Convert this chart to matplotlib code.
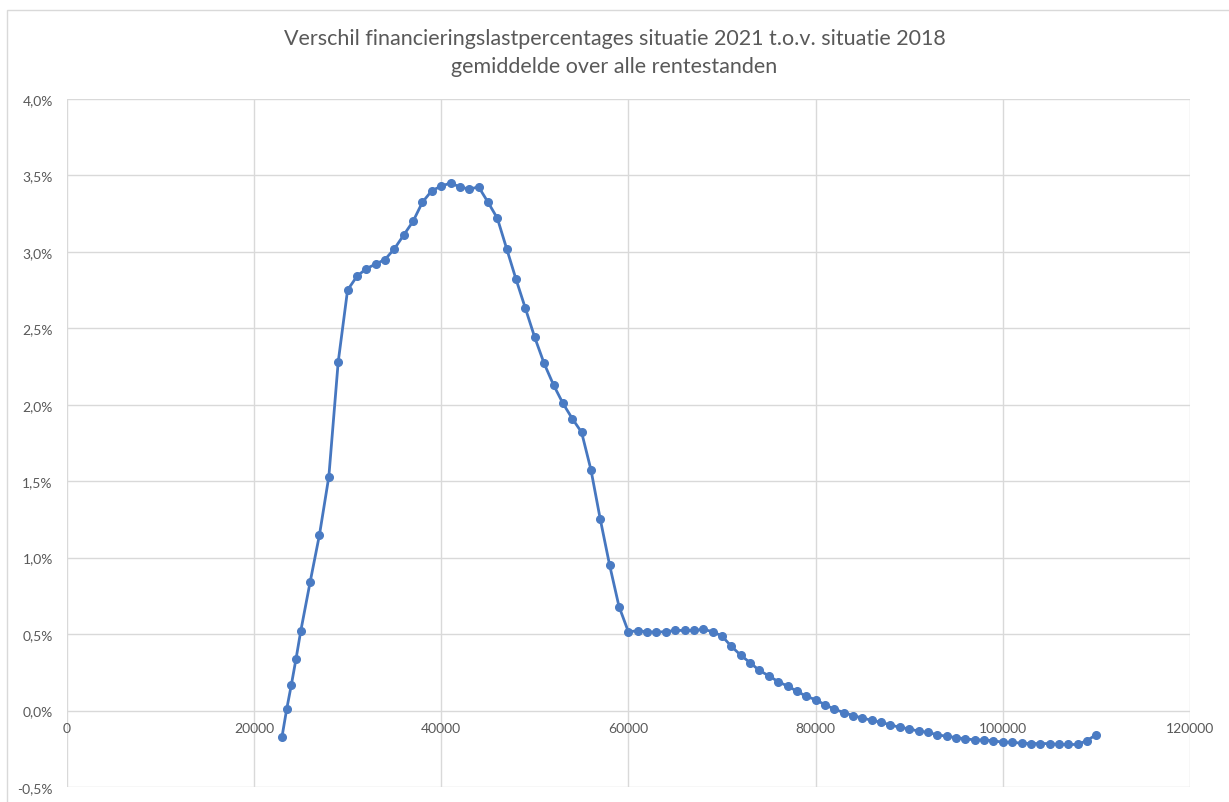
import numpy as np
import matplotlib.pyplot as plt
from matplotlib.ticker import FuncFormatter, MultipleLocator
from matplotlib.patches import Rectangle

plt.rcParams['font.family'] = ['Lato', 'DejaVu Sans']

# inkomen (x) en verschil in financieringslastpercentage (in %)
inkomen = [23000, 23500, 24000, 24500, 25000] + list(range(26000, 111000, 1000))
verschil = [
    -0.17, 0.01, 0.17, 0.34, 0.52,                          # 23000 - 25000
    0.84, 1.15, 1.53, 2.28, 2.75,                           # 26000 - 30000
    2.84, 2.89, 2.92, 2.95, 3.02, 3.11, 3.20, 3.325, 3.40, 3.43,   # 31000 - 40000
    3.45, 3.425, 3.41, 3.425, 3.325, 3.22, 3.02, 2.82, 2.63, 2.44,  # 41000 - 50000
    2.27, 2.13, 2.01, 1.91, 1.82, 1.575, 1.25, 0.95, 0.68, 0.515,   # 51000 - 60000
    0.522, 0.515, 0.513, 0.516, 0.524, 0.524, 0.524, 0.531, 0.516, 0.487,  # 61000 - 70000
    0.42, 0.362, 0.313, 0.262, 0.227, 0.189, 0.16, 0.127, 0.093, 0.071,  # 71000 - 80000
    0.038, 0.009, -0.013, -0.033, -0.049, -0.064, -0.077, -0.094, -0.11, -0.12,  # 81000 - 90000
    -0.135, -0.142, -0.159, -0.168, -0.177, -0.185, -0.192, -0.192, -0.198, -0.207,  # 91000 - 100000
    -0.207, -0.214, -0.216, -0.216, -0.216, -0.222, -0.222, -0.222, -0.196, -0.157,  # 101000 - 110000
]

titel_1 = "Verschil financieringslastpercentages situatie 2021 t.o.v. situatie 2018"
titel_2 = "gemiddelde over alle rentestanden"

fig = plt.figure(figsize=(12.29, 8.03), dpi=100)
ax = fig.add_axes([0.0543, 0.0187, 0.9140, 0.8568])

# chart border (right edge falls outside the picture)
fig.patches.append(Rectangle((7 / 1229, -0.01), 1.0, 1.01 - 10.5 / 803, transform=fig.transFigure,
                             fill=False, edgecolor='#d9d9d9', linewidth=1))

ax.plot(inkomen, verschil, color='#4677C0', linewidth=2, marker='o', markersize=5.5,
        markerfacecolor='#4A7BC3', markeredgecolor='#4A7BC3', zorder=3)

ax.set_xlim(0, 120000)
ax.set_ylim(-0.5, 4.0)
ax.xaxis.set_major_locator(MultipleLocator(20000))
ax.yaxis.set_major_locator(MultipleLocator(0.5))
ax.yaxis.set_major_formatter(FuncFormatter(lambda v, p: f"{v:.1f}%".replace('.', ',')))
ax.xaxis.set_major_formatter(FuncFormatter(lambda v, p: f"{int(v)}"))

ax.grid(True, color='#d9d9d9', linewidth=1)
ax.set_axisbelow(True)
for s in ['top', 'right', 'left']:
    ax.spines[s].set_visible(False)
ax.spines['bottom'].set_position(('data', 0))
ax.spines['bottom'].set_visible(False)
ax.tick_params(axis='both', length=0, labelsize=10, colors='#595959')
ax.tick_params(axis='x', pad=8)
ax.tick_params(axis='y', pad=10)

fig.text(0.5, 1 - 45 / 803, titel_1, ha='center', va='baseline', fontsize=15.5, color='#595959')
fig.text(0.5, 1 - 73 / 803, titel_2, ha='center', va='baseline', fontsize=15.5, color='#595959')

fig.savefig('out.png', dpi=100)
